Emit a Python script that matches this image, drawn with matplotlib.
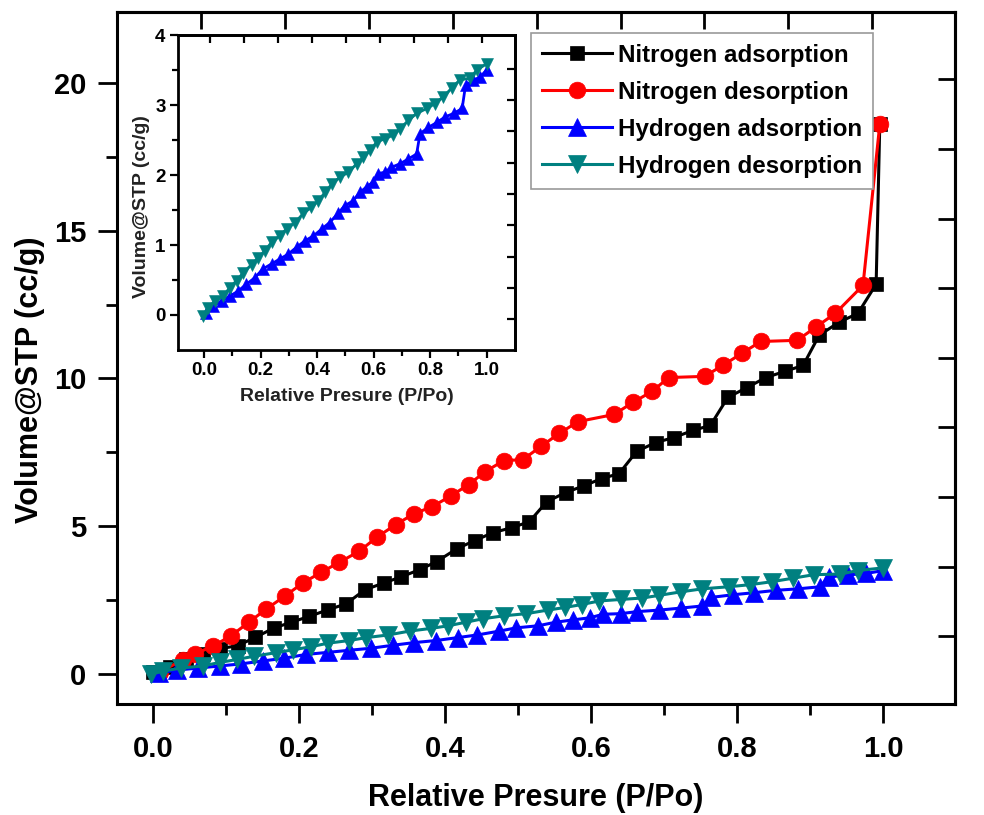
import numpy as np
import matplotlib
matplotlib.use("Agg")
import matplotlib.pyplot as plt

plt.rcParams['font.family'] = ['Liberation Sans', 'DejaVu Sans']
plt.rcParams['font.weight'] = 'bold'

# Nitrogen isotherm (relative pressure, volume cc/g)
n2_ads_p = [0.000, 0.023, 0.045, 0.068, 0.091, 0.116, 0.140, 0.165, 0.189, 0.214,
            0.239, 0.264, 0.290, 0.316, 0.340, 0.365, 0.388, 0.416, 0.440, 0.465,
            0.491, 0.515, 0.539, 0.565, 0.590, 0.614, 0.638, 0.662, 0.688, 0.713,
            0.739, 0.763, 0.787, 0.813, 0.839, 0.865, 0.890, 0.912, 0.939, 0.965,
            0.990, 0.995]
n2_ads_v = [0.07, 0.24, 0.50, 0.68, 0.85, 0.96, 1.24, 1.55, 1.75, 1.95,
            2.17, 2.37, 2.85, 3.08, 3.29, 3.53, 3.80, 4.24, 4.51, 4.78,
            4.95, 5.15, 5.83, 6.14, 6.37, 6.61, 6.78, 7.53, 7.83, 8.00,
            8.24, 8.41, 9.36, 9.69, 10.03, 10.24, 10.44, 11.46, 11.90, 12.20,
            13.19, 18.60]

n2_des_p = [0.009, 0.041, 0.057, 0.082, 0.107, 0.131, 0.155, 0.180, 0.205, 0.230,
            0.255, 0.282, 0.307, 0.332, 0.357, 0.382, 0.408, 0.432, 0.455, 0.480,
            0.506, 0.531, 0.556, 0.582, 0.631, 0.657, 0.683, 0.706, 0.755, 0.780,
            0.806, 0.832, 0.882, 0.907, 0.934, 0.972, 0.995]
n2_des_v = [0.07, 0.48, 0.68, 0.94, 1.30, 1.75, 2.20, 2.63, 3.08, 3.44,
            3.78, 4.15, 4.64, 5.05, 5.42, 5.66, 6.03, 6.41, 6.85, 7.22,
            7.25, 7.70, 8.14, 8.54, 8.78, 9.19, 9.56, 10.03, 10.07, 10.44,
            10.85, 11.25, 11.29, 11.73, 12.20, 13.15, 18.60]

# Hydrogen isotherm
h2_ads_p = [0.008, 0.032, 0.062, 0.091, 0.120, 0.150, 0.179, 0.209, 0.239, 0.268,
            0.298, 0.328, 0.357, 0.387, 0.417, 0.444, 0.474, 0.497, 0.527, 0.551,
            0.575, 0.598, 0.616, 0.640, 0.663, 0.693, 0.723, 0.752, 0.764, 0.794,
            0.823, 0.853, 0.883, 0.913, 0.925, 0.951, 0.976, 1.000]
h2_ads_v = [0.03, 0.13, 0.20, 0.27, 0.34, 0.44, 0.53, 0.66, 0.73, 0.80,
            0.87, 0.97, 1.06, 1.13, 1.23, 1.32, 1.45, 1.56, 1.63, 1.75,
            1.83, 1.90, 2.02, 2.04, 2.11, 2.16, 2.23, 2.30, 2.59, 2.68,
            2.75, 2.83, 2.88, 2.95, 3.28, 3.35, 3.40, 3.50]

h2_des_p = [-0.003, 0.014, 0.038, 0.068, 0.091, 0.115, 0.138, 0.168, 0.192, 0.216,
            0.239, 0.268, 0.292, 0.322, 0.351, 0.380, 0.404, 0.428, 0.452, 0.481,
            0.511, 0.540, 0.564, 0.587, 0.611, 0.640, 0.670, 0.693, 0.723, 0.752,
            0.788, 0.817, 0.847, 0.876, 0.905, 0.941, 0.965, 1.000]
h2_des_v = [-0.01, 0.10, 0.20, 0.27, 0.39, 0.49, 0.60, 0.72, 0.82, 0.92,
            1.04, 1.13, 1.23, 1.32, 1.45, 1.54, 1.63, 1.75, 1.87, 1.97,
            2.04, 2.16, 2.25, 2.35, 2.47, 2.52, 2.57, 2.66, 2.78, 2.88,
            2.95, 3.02, 3.12, 3.24, 3.36, 3.38, 3.50, 3.59]

labels = ["Nitrogen adsorption", "Nitrogen desorption",
          "Hydrogen adsorption", "Hydrogen desorption"]
colors = ["#000000", "#ff0000", "#0000ff", "#008080"]
markers = ["s", "o", "^", "v"]

W, H = 984, 815
fig = plt.figure(figsize=(W / 100, H / 100), dpi=100)


def frac(l, t, r, b):
    """Axes rectangle from pixel edges (left, top, right, bottom)."""
    return [l / W, 1 - b / H, (r - l) / W, (b - t) / H]


# ---- main panel ----
ax = fig.add_axes(frac(116.7, 12, 955, 703.5))
series = [(n2_ads_p, n2_ads_v), (n2_des_p, n2_des_v),
          (h2_ads_p, h2_ads_v), (h2_des_p, h2_des_v)]
msizes = [10.5, 12, 12.5, 12.5]
handles = []
for (px, vy), c, m, ms, lab in zip(series, colors, markers, msizes, labels):
    h, = ax.plot(px, vy, color=c, marker=m, markersize=ms, lw=2.2,
                 markeredgewidth=0.5, label=lab)
    handles.append(h)

ax.set_xlim(-0.05, 1.098)
ax.set_ylim(-1, 22.4)
ax.set_xticks(np.arange(0, 1.01, 0.2))
ax.set_xticks(np.arange(0.1, 1.1, 0.2), minor=True)
ax.set_yticks([0, 5, 10, 15, 20])
ax.set_yticks([2.5, 7.5, 12.5, 17.5], minor=True)
ax.xaxis.set_major_formatter(matplotlib.ticker.FormatStrFormatter('%.1f'))
ax.tick_params(which='major', length=14, width=2, direction='out',
               labelsize=21, top=False, right=False)
ax.tick_params(which='minor', length=8, width=2, direction='out',
               top=False, right=False)
ax.tick_params(axis='x', pad=9)
ax.tick_params(axis='y', pad=8)
for s in ax.spines.values():
    s.set_linewidth(2.2)

# inward ticks on the top and right frame
top = ax.secondary_xaxis('top')
top.set_xticks(0.066 + 0.1148 * np.arange(9))
top.tick_params(direction='in', length=12, width=2, labeltop=False)
top.spines['top'].set_linewidth(2.2)
right = ax.secondary_yaxis('right')
right.set_yticks(1.28 + 2.355 * np.arange(9))
right.tick_params(direction='in', length=12, width=2, labelright=False)
right.spines['right'].set_linewidth(2.2)

ax.set_xlabel("Relative Presure (P/Po)", fontsize=22, fontweight='bold')
ax.set_ylabel("Volume@STP (cc/g)", fontsize=22, fontweight='bold')
ax.xaxis.set_label_coords(0.5, 1 - (798 - 12) / (703.5 - 12),
                          transform=ax.transAxes)
ax.yaxis.set_label_coords((30 - 116.7) / (955 - 116.7),
                          1 - (380 - 12) / (703.5 - 12),
                          transform=ax.transAxes)
ax.xaxis.label.set_va('center')
ax.yaxis.label.set_va('center')

leg = ax.legend(handles=handles, loc='upper left',
                bbox_to_anchor=(531 / W, 1 - 33 / H),
                bbox_transform=fig.transFigure, borderaxespad=0,
                prop={'weight': 'bold', 'size': 17.4},
                handlelength=2.9, handletextpad=0.25, labelspacing=0.58,
                borderpad=0.45, fancybox=False, framealpha=1)
leg.get_frame().set_edgecolor('#9a9a9a')
leg.get_frame().set_linewidth(1.2)

# ---- inset: hydrogen only ----
ins = fig.add_axes(frac(178, 35, 515, 350))
ins.plot(h2_ads_p, h2_ads_v, color=colors[2], marker='^', markersize=8,
         lw=2.0, markeredgewidth=0.4)
ins.plot(h2_des_p, h2_des_v, color=colors[3], marker='v', markersize=8,
         lw=2.0, markeredgewidth=0.4)
ins.set_xlim(-0.092, 1.1)
ins.set_ylim(-0.5, 4)
ins.set_xticks(np.arange(0, 1.01, 0.2))
ins.set_xticks(np.arange(0.1, 1.1, 0.2), minor=True)
ins.set_yticks([0, 1, 2, 3, 4])
ins.set_yticks([0.5, 1.5, 2.5, 3.5], minor=True)
ins.xaxis.set_major_formatter(matplotlib.ticker.FormatStrFormatter('%.1f'))
ins.tick_params(which='major', length=6, width=1.6, direction='out',
                labelsize=13.5, pad=3, top=False, right=False)
ins.tick_params(which='minor', length=4, width=1.6, direction='out',
                top=False, right=False)
for s in ins.spines.values():
    s.set_linewidth(2.0)
itop = ins.secondary_xaxis('top')
itop.set_xticks(0.022 + 0.12 * np.arange(9))
itop.tick_params(direction='in', length=6, width=1.6, labeltop=False)
itop.spines['top'].set_linewidth(2.0)
iright = ins.secondary_yaxis('right')
iright.set_yticks(-0.06 + 0.447 * np.arange(9))
iright.tick_params(direction='in', length=6, width=1.6, labelright=False)
iright.spines['right'].set_linewidth(2.0)

ins.set_xlabel("Relative Presure (P/Po)", fontsize=14, fontweight='bold',
               color='#222222')
ins.set_ylabel("Volume@STP (cc/g)", fontsize=14, fontweight='bold',
               color='#222222')
ins.xaxis.set_label_coords(0.5, 1 - (397 - 35) / (350 - 35))
ins.yaxis.set_label_coords((142 - 178) / (515 - 178), 1 - (207 - 35) / (350 - 35))
ins.xaxis.label.set_va('center')
ins.yaxis.label.set_va('center')

fig.savefig("out.png", dpi=100)
